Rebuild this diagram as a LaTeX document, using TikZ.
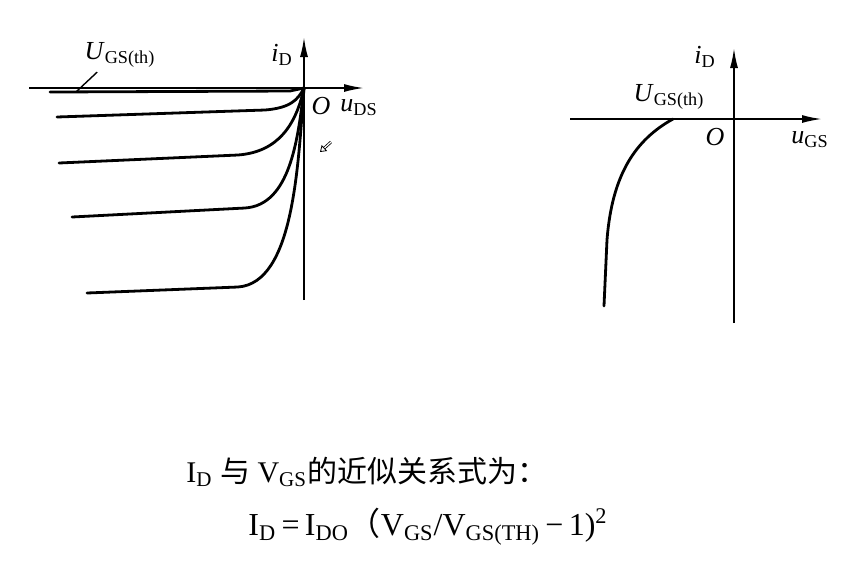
\documentclass[tikz,border=0pt]{standalone}
\usepackage{fontspec}
\setmainfont{Liberation Serif}
\newfontfamily\cjk{Noto Sans CJK SC}
\usetikzlibrary{arrows.meta}
\begin{document}
\begin{tikzpicture}[x=0.5pt,y=-0.5pt,
	axis/.style={line width=0.9pt,-{Latex[length=10pt,width=4pt]}},
	curve/.style={line width=1.4pt,line cap=round},
	lbl/.style={inner sep=0pt,font=\fontsize{13}{15}\selectfont},
	txt/.style={inner sep=0pt,anchor=west,font=\fontsize{15}{18}\selectfont}]
	\useasboundingbox (0,0) rectangle (864,575);
	\coordinate (o1) at (304,88);
	\coordinate (x1a) at (29,88);
	\coordinate (x1b) at (364,88);
	\coordinate (y1a) at (304,300);
	\coordinate (y1b) at (304,37);
	\draw [axis] (x1a) -- (x1b);
	\draw [axis] (y1a) -- (y1b);
	\draw [curve] (50,92) -- (290,91) -- (o1);
	\draw [curve] (57,117) -- (265,110) .. controls (290,108) and (298,100) .. (o1);
	\draw [curve] (59,163) -- (238,155) .. controls (278,152) and (296,125) .. (o1);
	\draw [curve] (72,217) -- (245,208) .. controls (290,205) and (298,140) .. (o1);
	\draw [curve] (87,293) -- (238,287) .. controls (294,283) and (298,165) .. (o1);
	\node [lbl] at (120,55) (uth1) {\textit{U}\textsubscript{GS(th)}};
	\coordinate (lead) at (77,91);
	\draw [line width=0.7pt] (lead) -- ([xshift=6.5pt,yshift=-2pt]uth1.south west);
	\node [lbl] at (282,55) (id1) {\textit{i}\textsubscript{D}};
	\node [lbl] at (321,106) (O1) {\textit{O}};
	\node [lbl] at (359,108) (uds) {\textit{u}\textsubscript{DS}};
	\coordinate (ptra) at (331,142);
	\coordinate (ptrb) at (320,152);
	\draw [double,line width=0.4pt,-{Triangle[open,length=3pt,width=4pt]}] (ptra) -- (ptrb);
	\coordinate (o2) at (734,119);
	\coordinate (x2a) at (570,119);
	\coordinate (x2b) at (822,119);
	\coordinate (y2a) at (734,323);
	\coordinate (y2b) at (734,48);
	\draw [axis] (x2a) -- (x2b);
	\draw [axis] (y2a) -- (y2b);
	\coordinate (th) at (673,119);
	\draw [curve] (th) .. controls (635,140) and (612,175) .. (607,240) -- (604,306);
	\node [lbl] at (705,57) (id2) {\textit{i}\textsubscript{D}};
	\node [lbl] at (669,97) (uth2) {\textit{U}\textsubscript{GS(th)}};
	\node [lbl] at (715,137) (O2) {\textit{O}};
	\node [lbl] at (810,140) (ugs) {\textit{u}\textsubscript{GS}};
	\node [txt] at (186,472) (rel) {I\textsubscript{D} {\cjk 与} V\textsubscript{GS}{\cjk 的近似关系式为：}};
	\node [txt,font=\fontsize{16}{19}\selectfont] at (248,527) (eq) {I\textsubscript{D}\,=\,I\textsubscript{DO}{\cjk （}V\textsubscript{GS}/V\textsubscript{GS(TH)}\,−\,1)\textsuperscript{2}};
\end{tikzpicture}
\end{document}
